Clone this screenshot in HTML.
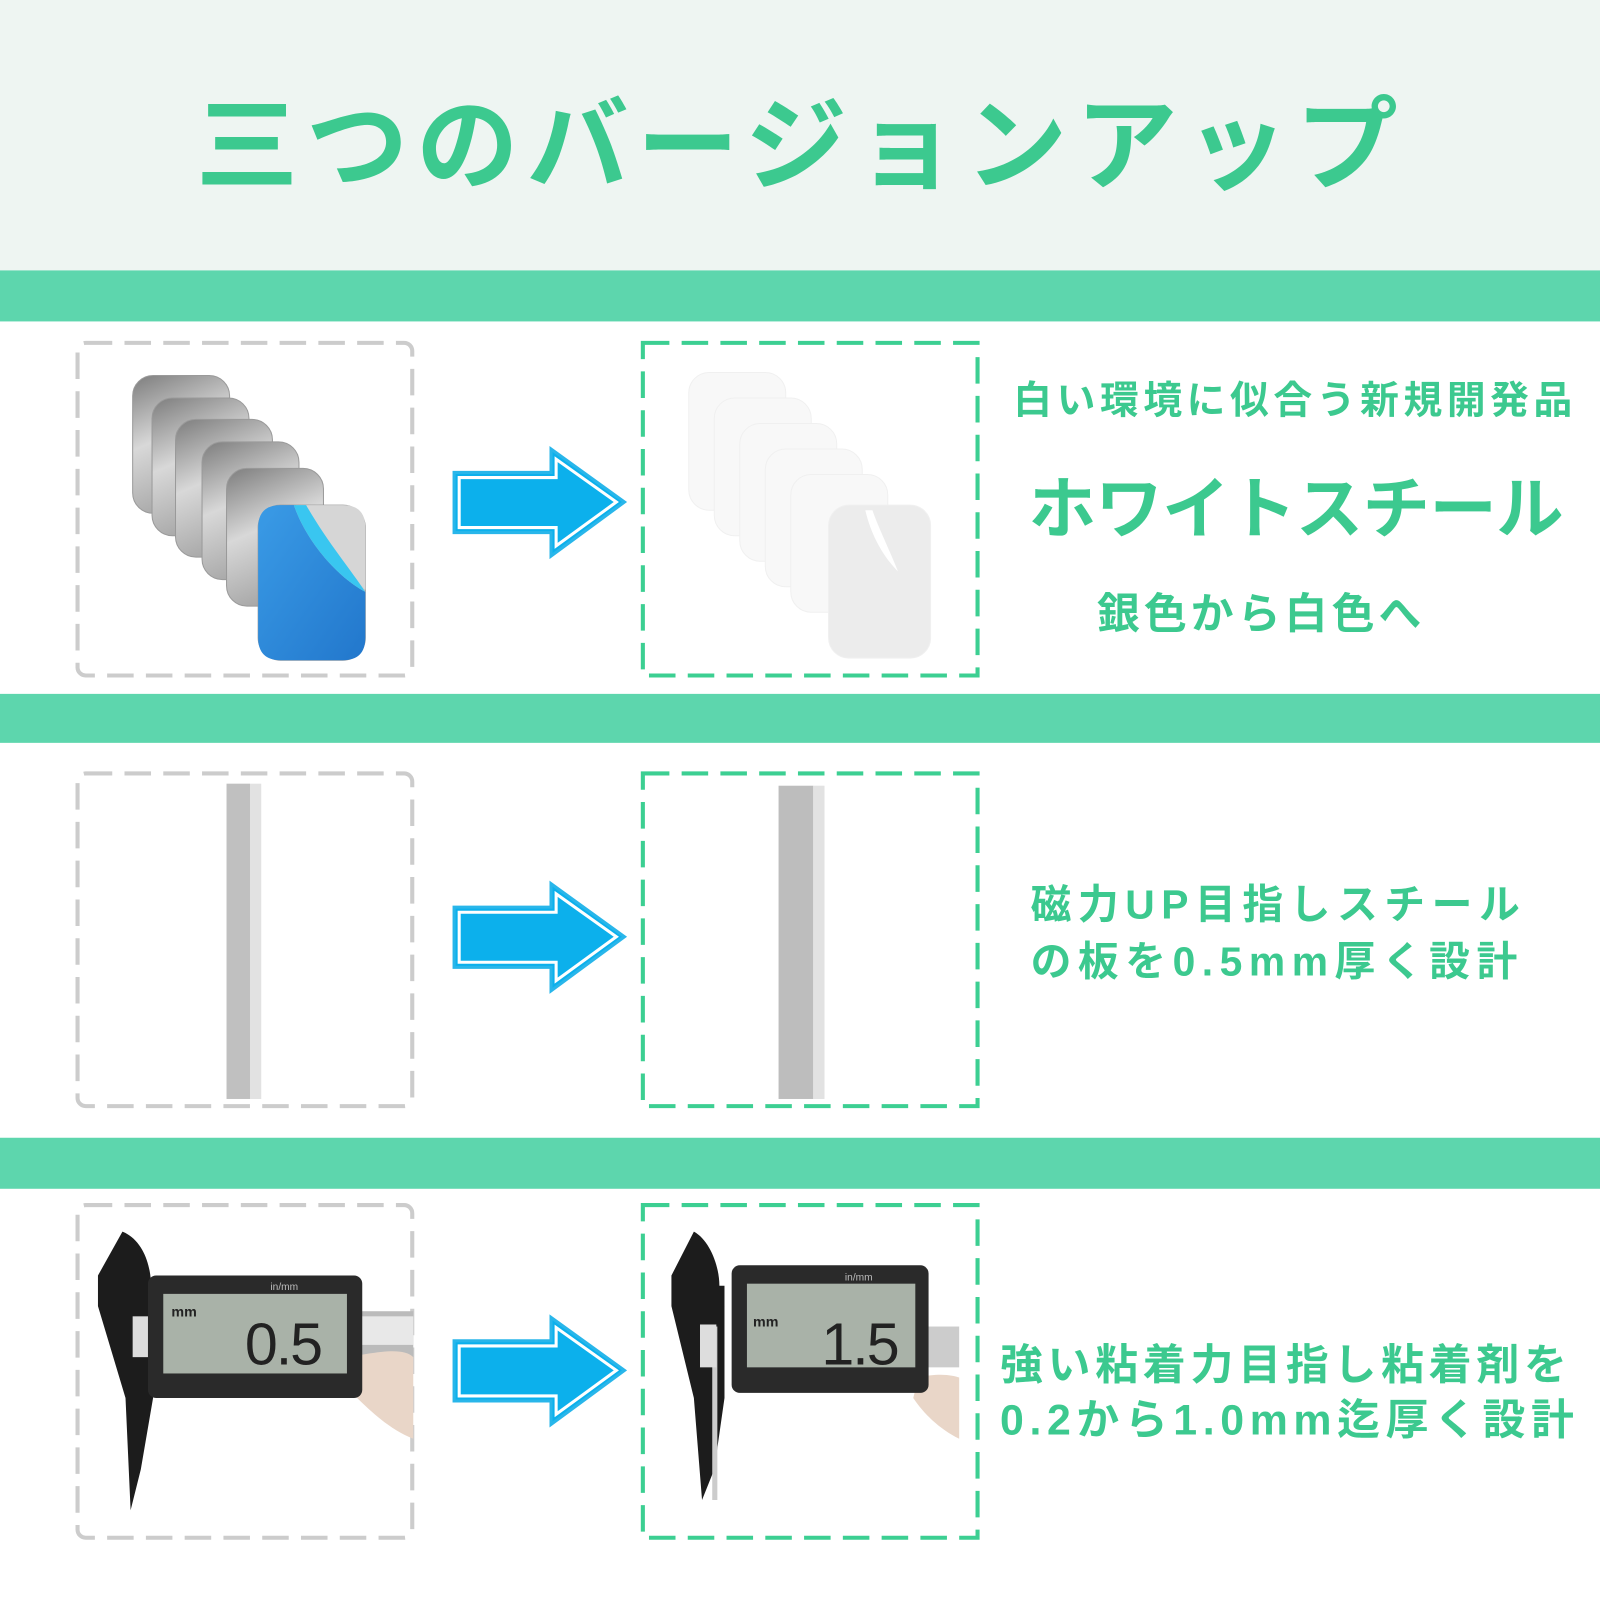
<!DOCTYPE html>
<html><head><meta charset="utf-8"><style>
html,body{margin:0;padding:0;background:#fff;width:1600px;height:1600px;overflow:hidden}
svg{display:block}
text{font-family:"Liberation Sans","Noto Sans CJK JP",sans-serif;font-weight:bold;fill:#3cc98f}
</style></head><body>
<svg width="1600" height="1600" viewBox="0 0 1568 1568" xmlns="http://www.w3.org/2000/svg">
<defs>
<linearGradient id="steel" x1="0" y1="0" x2="0.3" y2="1">
<stop offset="0" stop-color="#7d7d7d"/><stop offset="0.5" stop-color="#d8d8d8"/><stop offset="1" stop-color="#a8a8a8"/></linearGradient>
<linearGradient id="blue" x1="0" y1="0" x2="1" y2="1">
<stop offset="0" stop-color="#3a9be6"/><stop offset="1" stop-color="#2277cc"/></linearGradient>
<g id="arrow">
<path d="M445,463 H540 V440 L612,492 L540,545 V522 H445 Z" fill="#0cb0ec" stroke="#29b6ea" stroke-width="3"/>
<path d="M450,468 H545 V450 L604,492 L545,535 V517 H450 Z" fill="none" stroke="#fff" stroke-width="3"/>
</g>
</defs>
<rect width="1568" height="1568" fill="#fff"/>
<rect width="1568" height="265" fill="#eef5f2"/>
<text x="785" y="178" text-anchor="middle" font-size="100" letter-spacing="8">三つのバージョンアップ</text>
<rect y="265" width="1568" height="50" fill="#5dd6ad"/>
<rect y="680" width="1568" height="48" fill="#5dd6ad"/>
<rect y="1115" width="1568" height="50" fill="#5dd6ad"/>

<g fill="none" stroke-width="4" stroke-dasharray="26 12">
<rect x="76" y="336" width="328" height="326" rx="8" stroke="#cccccc"/>
<rect x="76" y="758" width="328" height="326" rx="8" stroke="#cccccc"/>
<rect x="76" y="1181" width="328" height="326" rx="8" stroke="#cccccc"/>
<rect x="630" y="336" width="328" height="326" stroke="#3ccf92"/>
<rect x="630" y="758" width="328" height="326" stroke="#3ccf92"/>
<rect x="630" y="1181" width="328" height="326" stroke="#3ccf92"/>
</g>

<use href="#arrow"/>
<use href="#arrow" transform="translate(0,426)"/>
<use href="#arrow" transform="translate(0,851)"/>

<g stroke="#9a9a9a" stroke-width="1">
<rect x="130" y="368" width="95" height="135" rx="20" fill="url(#steel)"/>
<rect x="149" y="390" width="95" height="135" rx="20" fill="url(#steel)"/>
<rect x="172" y="411" width="95" height="135" rx="20" fill="url(#steel)"/>
<rect x="198" y="433" width="95" height="135" rx="20" fill="url(#steel)"/>
<rect x="222" y="459" width="95" height="135" rx="20" fill="url(#steel)"/>
<rect x="253" y="495" width="105" height="152" rx="22" fill="#cfcfcf"/>
</g>
<path d="M275,495 L336,495 Q358,495 358,517 L358,578 C340,560 320,520 290,495 Z" fill="#d6d6d6"/>
<path d="M253,517 Q253,495 275,495 L288,495 C300,530 330,565 358,580 L358,625 Q358,647 336,647 L275,647 Q253,647 253,625 Z" fill="url(#blue)"/>
<path d="M288,495 C300,530 330,565 358,580 C345,560 320,530 300,495 Z" fill="#39c6f0"/>
<g fill="#f8f8f8" stroke="#f0f0f0">
<rect x="675" y="365" width="95" height="135" rx="20"/>
<rect x="700" y="390" width="95" height="135" rx="20"/>
<rect x="725" y="415" width="95" height="135" rx="20"/>
<rect x="750" y="440" width="95" height="135" rx="20"/>
<rect x="775" y="465" width="95" height="135" rx="20"/>
<rect x="812" y="495" width="100" height="150" rx="20" fill="#ececec"/>
</g>
<path d="M848,500 C855,530 870,550 880,560 C870,535 860,515 855,500 Z" fill="#fff"/>

<text x="993" y="405" font-size="38" letter-spacing="4.5">白い環境に似合う新規開発品</text>
<text x="1008" y="522" font-size="66" letter-spacing="-0.5">ホワイトスチール</text>
<text x="1075" y="616" font-size="42" letter-spacing="4">銀色から白色へ</text>

<rect x="222" y="768" width="23" height="309" fill="#c0c0c0"/>
<rect x="245" y="768" width="11" height="309" fill="#e2e2e2"/>
<rect x="763" y="770" width="34" height="307" fill="#bdbdbd"/>
<rect x="797" y="770" width="11" height="307" fill="#e2e2e2"/>
<text x="1010" y="900" font-size="40" letter-spacing="6.4">磁力UP目指しスチール</text>
<text x="1010" y="956" font-size="40" letter-spacing="6.4">の板を0.5mm厚く設計</text>

<g>
<path d="M120,1207 C140,1215 148,1240 148,1260 L150,1260 L150,1370 L138,1440 L128,1480 L123,1370 L96,1280 L96,1250 Z" fill="#1c1c1c"/>
<rect x="130" y="1290" width="20" height="40" fill="#ddd"/>
<rect x="330" y="1285" width="75" height="45" fill="#bbb"/>
<rect x="345" y="1290" width="60" height="28" fill="#e8e8e8"/>
<path d="M340,1330 C370,1325 395,1320 405,1330 L405,1410 C380,1400 360,1380 345,1365 Z" fill="#e9d6c8"/>
<rect x="145" y="1250" width="210" height="120" rx="8" fill="#2a2a2a"/>
<rect x="160" y="1268" width="180" height="78" fill="#a9b2a8"/>
<text x="168" y="1290" font-size="14" style="fill:#222">mm</text>
<text x="240" y="1337" font-size="58" style="fill:#222;font-weight:normal" letter-spacing="-2">0.5</text>
<text x="265" y="1264" font-size="10" style="fill:#bbb;font-weight:normal">in/mm</text>
</g>
<g>
<path d="M680,1207 C695,1215 705,1240 705,1260 L710,1260 L710,1370 L700,1440 L688,1470 L680,1370 L658,1280 L658,1250 Z" fill="#1c1c1c"/>
<rect x="698" y="1300" width="5" height="170" fill="#ccc"/>
<rect x="686" y="1298" width="16" height="42" fill="#ddd"/>
<rect x="895" y="1300" width="45" height="40" fill="#ccc"/>
<path d="M900,1350 C920,1345 935,1348 940,1350 L940,1410 C920,1400 905,1385 895,1370 Z" fill="#e9d6c8"/>
<rect x="717" y="1240" width="193" height="125" rx="8" fill="#2a2a2a"/>
<rect x="732" y="1258" width="165" height="82" fill="#a9b2a8"/>
<text x="738" y="1300" font-size="14" style="fill:#222">mm</text>
<text x="805" y="1337" font-size="58" style="fill:#222;font-weight:normal" letter-spacing="-2">1.5</text>
<text x="828" y="1255" font-size="10" style="fill:#bbb;font-weight:normal">in/mm</text>
</g>
<text x="980" y="1352" font-size="42" letter-spacing="4.7">強い粘着力目指し粘着剤を</text>
<text x="980" y="1406" font-size="42" letter-spacing="5.5">0.2から1.0mm迄厚く設計</text>
</svg>
</body></html>
